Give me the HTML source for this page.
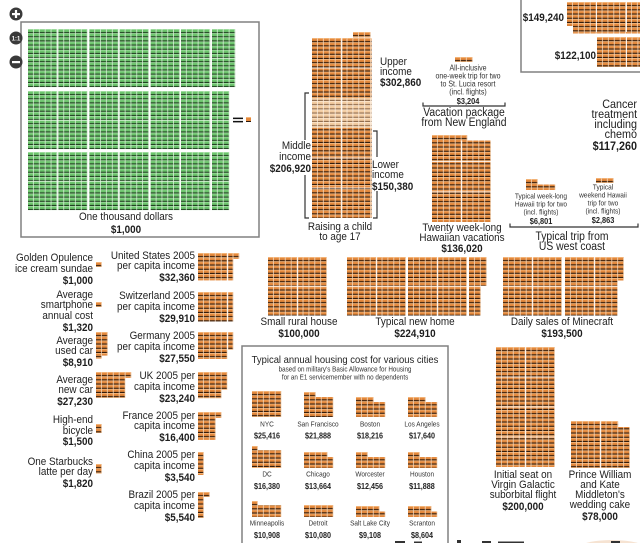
<!DOCTYPE html>
<html><head><meta charset="utf-8">
<style>
html,body{margin:0;padding:0;background:#fff;}
svg{display:block;}
text{font-family:"Liberation Sans",sans-serif;font-size:11px;fill:#1e1e1e;transform-box:fill-box;transform:scaleX(.9);}
.m{text-anchor:middle;transform-origin:50% 50%;}
.e{text-anchor:end;transform-origin:100% 50%;}
.s{text-anchor:start;transform-origin:0% 50%;}
.b{font-weight:bold;}
.n{font-size:7.8px;fill:#333;}
.n2{font-size:7.3px;fill:#333;}
.nb{font-size:8.2px;font-weight:bold;fill:#222;}
.c{font-size:12px;}
.v{font-size:11.5px;}
.tt{font-size:10.5px;}
.sub{font-size:7px;fill:#333;}
.cn{font-size:7.2px;fill:#333;}
.cv{font-size:8px;font-weight:bold;fill:#222;}
</style></head>
<body>
<svg width="640" height="543" viewBox="0 0 640 543" xmlns="http://www.w3.org/2000/svg">
<defs>
<pattern id="o" width="5.9" height="4.2" patternUnits="userSpaceOnUse">
 <rect width="5.9" height="4.2" fill="#f3dcc3"/>
 <rect width="5.1" height="4.2" fill="#e3883c"/>
 <rect width="5.1" height="0.9" fill="#f4b57a"/>
 <rect y="3.1" width="5.1" height="1.1" fill="#2c190c"/>
</pattern>
<pattern id="p" width="5.9" height="4.2" patternUnits="userSpaceOnUse">
 <rect width="5.9" height="4.2" fill="#fbefe2"/>
 <rect width="5.1" height="4.2" fill="#f2cba0"/>
 <rect width="5.1" height="0.9" fill="#fbe3c8"/>
 <rect y="3.1" width="5.1" height="1.1" fill="#8e6a4c"/>
</pattern>
<pattern id="g" width="5.85" height="4.15" patternUnits="userSpaceOnUse">
 <rect width="5.85" height="4.15" fill="#e4f3e4"/>
 <rect width="5.1" height="4.15" fill="#6cc46c"/>
 <rect width="5.1" height="0.8" fill="#a6e0a6"/>
 <rect y="3.1" width="5.1" height="1.05" fill="#1d3a1d"/>
</pattern>
</defs>

<!-- zoom controls -->
<circle cx="16" cy="14" r="6.5" fill="#3a3a3a"/>
<rect x="12" y="13" width="8" height="2.2" fill="#fff"/><rect x="14.9" y="10" width="2.2" height="8" fill="#fff"/>

<!-- green box -->
<rect x="21" y="22" width="238" height="215" fill="#fff" stroke="#808080" stroke-width="1.5"/>
<circle cx="16" cy="38" r="6.5" fill="#3a3a3a"/>
<text x="16" y="40.5" class="m b" style="font-size:6.5px;fill:#fff">1:1</text>
<circle cx="16" cy="62" r="6.5" fill="#3a3a3a"/>
<rect x="12" y="61" width="8" height="2.2" fill="#fff"/>

<!-- green grid: bands -->
<g transform="translate(28,29)"><rect width="29.25" height="58.1" fill="url(#g)"/></g>
<g transform="translate(58.3,29)"><rect width="29.25" height="58.1" fill="url(#g)"/></g>
<g transform="translate(89.3,29)"><rect width="29.25" height="58.1" fill="url(#g)"/></g>
<g transform="translate(119.6,29)"><rect width="29.25" height="58.1" fill="url(#g)"/></g>
<g transform="translate(150.6,29)"><rect width="29.25" height="58.1" fill="url(#g)"/></g>
<g transform="translate(180.9,29)"><rect width="29.25" height="58.1" fill="url(#g)"/></g>
<g transform="translate(211.9,29)"><rect width="23.4" height="58.1" fill="url(#g)"/></g>

<g transform="translate(28,91)"><rect width="29.25" height="58.1" fill="url(#g)"/></g>
<g transform="translate(58.3,91)"><rect width="29.25" height="58.1" fill="url(#g)"/></g>
<g transform="translate(89.3,91)"><rect width="29.25" height="58.1" fill="url(#g)"/></g>
<g transform="translate(119.6,91)"><rect width="29.25" height="58.1" fill="url(#g)"/></g>
<g transform="translate(150.6,91)"><rect width="29.25" height="58.1" fill="url(#g)"/></g>
<g transform="translate(180.9,91)"><rect width="29.25" height="58.1" fill="url(#g)"/></g>
<g transform="translate(211.9,91)"><rect width="17.55" height="58.1" fill="url(#g)"/></g>

<g transform="translate(28,152)"><rect width="29.25" height="58.1" fill="url(#g)"/></g>
<g transform="translate(58.3,152)"><rect width="29.25" height="58.1" fill="url(#g)"/></g>
<g transform="translate(89.3,152)"><rect width="29.25" height="58.1" fill="url(#g)"/></g>
<g transform="translate(119.6,152)"><rect width="29.25" height="58.1" fill="url(#g)"/></g>
<g transform="translate(150.6,152)"><rect width="29.25" height="58.1" fill="url(#g)"/></g>
<g transform="translate(180.9,152)"><rect width="29.25" height="58.1" fill="url(#g)"/></g>
<g transform="translate(211.9,152)"><rect width="17.55" height="58.1" fill="url(#g)"/></g>
<rect x="28" y="57.8" width="207" height="0.7" fill="#fff" opacity=".7"/>
<rect x="28" y="119.8" width="202" height="0.7" fill="#fff" opacity=".7"/>
<rect x="28" y="180.8" width="202" height="0.7" fill="#fff" opacity=".7"/>

<!-- equals -->
<rect x="233" y="117.6" width="10" height="1.5" fill="#111"/>
<rect x="233" y="120.9" width="10" height="1.5" fill="#111"/>
<rect x="246" y="117" width="5" height="5" fill="#e3883c"/>
<rect x="246" y="117" width="5" height="1" fill="#f4b57a"/>
<rect x="246" y="121" width="5" height="1" fill="#2c190c"/>

<text class="m" x="126" y="220">One thousand dollars</text>
<text class="m b" x="126" y="233">$1,000</text>

<!-- Raising a child -->
<g transform="translate(353,32)"><rect width="17.7" height="5.5" fill="url(#o)"/></g>
<g transform="translate(312,38)">
 <rect width="59.5" height="60" fill="url(#o)"/>
 <rect y="60" width="59.5" height="30" fill="url(#p)"/>
 <rect y="90" width="59.5" height="90" fill="url(#o)"/>
</g>
<rect x="341.4" y="38" width="0.9" height="180" fill="#fff"/>
<rect x="312" y="67.6" width="59.5" height="0.8" fill="#fff"/>
<rect x="312" y="157.6" width="59.5" height="0.8" fill="#fff"/>
<rect x="312" y="187.6" width="59.5" height="0.8" fill="#fff"/>
<g stroke="#333" stroke-width="1.2" fill="none">
 <path d="M309,93 H305 V140"/>
 <path d="M305,175 V218 H309"/>
 <path d="M373,131 H377 V157"/>
 <path d="M377,191 V218 H373"/>
</g>
<text class="s" x="380" y="65">Upper</text>
<text class="s" x="380" y="75">income</text>
<text class="s b" x="380" y="86">$302,860</text>
<text class="e" x="311" y="149">Middle</text>
<text class="e" x="311" y="160">income</text>
<text class="e b" x="311" y="172">$206,920</text>
<text class="s" x="372" y="168">Lower</text>
<text class="s" x="372" y="178">income</text>
<text class="s b" x="372" y="190">$150,380</text>
<text class="m" x="340" y="230">Raising a child</text>
<text class="m" x="340" y="240">to age 17</text>

<!-- Vacation package -->
<g transform="translate(455,57)"><rect width="17.7" height="5" fill="url(#o)"/></g>
<text class="m n" x="468" y="70.5">All-inclusive</text>
<text class="m n" x="468" y="78.5">one-week trip for two</text>
<text class="m n" x="468" y="86.5">to St. Lucia resort</text>
<text class="m n" x="468" y="94.5">(incl. flights)</text>
<text class="m nb" x="468" y="103.8">$3,204</text>
<path d="M423,102.5 V106 H505 V102.5" stroke="#333" stroke-width="1.2" fill="none"/>
<text class="m v" x="464" y="116">Vacation package</text>
<text class="m v" x="464" y="126">from New England</text>

<!-- Twenty Hawaiian vacations -->
<g transform="translate(432,135)">
 <rect width="35.4" height="5.5" fill="url(#o)"/>
 <rect y="5.5" width="59" height="81.5" fill="url(#o)"/>
</g>
<rect x="461.3" y="140.5" width="0.9" height="82" fill="#fff"/>
<rect x="432" y="161" width="59" height="0.8" fill="#fff"/>
<rect x="432" y="191.5" width="59" height="0.8" fill="#fff"/>
<text class="m" x="462" y="231">Twenty week-long</text>
<text class="m" x="462" y="241">Hawaiian vacations</text>
<text class="m b" x="462" y="252">$136,020</text>

<!-- Trip from west coast -->
<g transform="translate(526,179)">
 <rect width="11.8" height="5.5" fill="url(#o)"/>
 <rect y="5.5" width="29.5" height="5.5" fill="url(#o)"/>
</g>
<g transform="translate(596,178)"><rect width="17.7" height="5" fill="url(#o)"/></g>
<text class="m n2" x="541" y="198.5">Typical week-long</text>
<text class="m n2" x="541" y="206.5">Hawaii trip for two</text>
<text class="m n2" x="541" y="214.5">(incl. flights)</text>
<text class="m nb" x="541" y="224">$6,801</text>
<text class="m n2" x="603" y="189.5">Typical</text>
<text class="m n2" x="603" y="197.5">weekend Hawaii</text>
<text class="m n2" x="603" y="205.5">trip for two</text>
<text class="m n2" x="603" y="213.5">(incl. flights)</text>
<text class="m nb" x="603" y="223">$2,863</text>
<path d="M510,223.5 V227 H638 V223.5" stroke="#333" stroke-width="1.2" fill="none"/>
<text class="m v" x="572" y="240">Typical trip from</text>
<text class="m v" x="572" y="250">US west coast</text>

<!-- Cancer -->
<text class="e c" x="637" y="108">Cancer</text>
<text class="e c" x="637" y="118">treatment</text>
<text class="e c" x="637" y="128">including</text>
<text class="e c" x="637" y="138">chemo</text>
<text class="e c b" x="637" y="150">$117,260</text>

<!-- top right box -->
<rect x="521" y="-5" width="130" height="77" fill="none" stroke="#808080" stroke-width="1.5"/>
<g transform="translate(567,2)">
 <rect width="73" height="24" fill="url(#o)"/>
 <rect x="6" y="24" width="67" height="7.5" fill="url(#o)"/>
</g>
<rect x="596" y="2" width="0.9" height="30" fill="#fff"/>
<rect x="626" y="2" width="0.9" height="30" fill="#fff"/>
<g transform="translate(597,37)"><rect width="43" height="30" fill="url(#o)"/></g>
<rect x="626" y="37" width="0.9" height="30" fill="#fff"/>
<text class="e b" x="564" y="21">$149,240</text>
<text class="e b" x="596" y="59">$122,100</text>

<!-- left column -->
<g transform="translate(96,262)"><rect width="5.9" height="5" fill="url(#o)"/></g>
<g transform="translate(96,302)"><rect width="5.9" height="5" fill="url(#o)"/></g>
<g transform="translate(96,332)"><rect width="11.8" height="23.6" fill="url(#o)"/><rect y="23.6" width="5.9" height="3" fill="url(#o)"/></g>
<g transform="translate(96,372)"><rect width="35.4" height="5.9" fill="url(#o)"/><rect y="5.9" width="29.5" height="20" fill="url(#o)"/></g>
<g transform="translate(96,424)"><rect width="5.9" height="9" fill="url(#o)"/></g>
<g transform="translate(96,464)"><rect width="5.9" height="9.5" fill="url(#o)"/></g>

<text class="e" x="93" y="261">Golden Opulence</text>
<text class="e" x="93" y="272">ice cream sundae</text>
<text class="e b" x="93" y="284">$1,000</text>
<text class="e" x="93" y="298">Average</text>
<text class="e" x="93" y="308">smartphone</text>
<text class="e" x="93" y="319">annual cost</text>
<text class="e b" x="93" y="331">$1,320</text>
<text class="e" x="93" y="344">Average</text>
<text class="e" x="93" y="354">used car</text>
<text class="e b" x="93" y="366">$8,910</text>
<text class="e" x="93" y="383">Average</text>
<text class="e" x="93" y="393">new car</text>
<text class="e b" x="93" y="405">$27,230</text>
<text class="e" x="93" y="423">High-end</text>
<text class="e" x="93" y="434">bicycle</text>
<text class="e b" x="93" y="445">$1,500</text>
<text class="e" x="93" y="465">One Starbucks</text>
<text class="e" x="93" y="475">latte per day</text>
<text class="e b" x="93" y="487">$1,820</text>

<!-- countries -->
<g transform="translate(198,253)"><rect width="41.3" height="5.9" fill="url(#o)"/><rect y="5.9" width="35.4" height="21.5" fill="url(#o)"/></g>
<g transform="translate(198,292)"><rect width="35.4" height="29.5" fill="url(#o)"/></g>
<g transform="translate(198,332)"><rect width="35.4" height="17.7" fill="url(#o)"/><rect y="17.7" width="29.5" height="9.3" fill="url(#o)"/></g>
<g transform="translate(198,372)"><rect width="29.5" height="17.7" fill="url(#o)"/><rect y="17.7" width="23.6" height="8.5" fill="url(#o)"/></g>
<g transform="translate(198,412)"><rect width="23.6" height="5.9" fill="url(#o)"/><rect y="5.9" width="17.7" height="22" fill="url(#o)"/></g>
<g transform="translate(198,452)"><rect width="5.9" height="23" fill="url(#o)"/></g>
<g transform="translate(198,492)"><rect width="11.8" height="5" fill="url(#o)"/><rect y="5" width="5.9" height="21" fill="url(#o)"/></g>
<rect x="227.3" y="253" width="0.9" height="28" fill="#fff"/>
<rect x="227.3" y="292" width="0.9" height="30" fill="#fff"/>
<rect x="227.3" y="332" width="0.9" height="18" fill="#fff"/>

<text class="e" x="195" y="259">United States 2005</text>
<text class="e" x="195" y="269">per capita income</text>
<text class="e b" x="195" y="281">$32,360</text>
<text class="e" x="195" y="299">Switzerland 2005</text>
<text class="e" x="195" y="310">per capita income</text>
<text class="e b" x="195" y="322">$29,910</text>
<text class="e" x="195" y="339">Germany 2005</text>
<text class="e" x="195" y="350">per capita income</text>
<text class="e b" x="195" y="362">$27,550</text>
<text class="e" x="195" y="379">UK 2005 per</text>
<text class="e" x="195" y="390">capita income</text>
<text class="e b" x="195" y="402">$23,240</text>
<text class="e" x="195" y="419">France 2005 per</text>
<text class="e" x="195" y="429">capita income</text>
<text class="e b" x="195" y="441">$16,400</text>
<text class="e" x="195" y="458">China 2005 per</text>
<text class="e" x="195" y="469">capita income</text>
<text class="e b" x="195" y="481">$3,540</text>
<text class="e" x="195" y="498">Brazil 2005 per</text>
<text class="e" x="195" y="509">capita income</text>
<text class="e b" x="195" y="521">$5,540</text>

<!-- houses row -->
<g transform="translate(268,257)"><rect width="59" height="58.5" fill="url(#o)"/></g>
<g transform="translate(347,257)"><rect width="59" height="58.5" fill="url(#o)"/></g>
<g transform="translate(408,257)"><rect width="59" height="58.5" fill="url(#o)"/></g>
<g transform="translate(469,257)"><rect width="17.7" height="29.5" fill="url(#o)"/><rect y="29.5" width="11.8" height="29" fill="url(#o)"/></g>
<g transform="translate(503,257)"><rect width="59" height="58.5" fill="url(#o)"/></g>
<g transform="translate(565,257)"><rect width="59" height="23.5" fill="url(#o)"/><rect y="23.5" width="52.5" height="35" fill="url(#o)"/></g>
<g fill="#fff">
 <rect x="297.3" y="257" width="0.9" height="58.5"/>
 <rect x="376.3" y="257" width="0.9" height="58.5"/>
 <rect x="437.3" y="257" width="0.9" height="58.5"/>
 <rect x="532.3" y="257" width="0.9" height="58.5"/>
 <rect x="594.3" y="257" width="0.9" height="58.5"/>
 <rect x="268" y="285.8" width="219" height="0.8"/>
 <rect x="503" y="285.8" width="121" height="0.8"/>
</g>
<text class="m" x="299" y="325">Small rural house</text>
<text class="m b" x="299" y="337">$100,000</text>
<text class="m" x="415" y="325">Typical new home</text>
<text class="m b" x="415" y="337">$224,910</text>
<text class="m" x="562" y="325">Daily sales of Minecraft</text>
<text class="m b" x="562" y="337">$193,500</text>

<!-- housing box -->
<rect x="242" y="346" width="206" height="210" fill="none" stroke="#808080" stroke-width="1.5"/>
<text class="m tt" x="345" y="363">Typical annual housing cost for various cities</text>
<text class="m sub" x="345" y="371.5">based on military's Basic Allowance for Housing</text>
<text class="m sub" x="345" y="379.5">for an E1 servicemember with no dependents</text>

<g transform="translate(252,391)"><rect width="29.5" height="26" fill="url(#o)"/></g>
<g transform="translate(304,392)"><rect width="11.8" height="5" fill="url(#o)"/><rect y="5" width="29.5" height="20" fill="url(#o)"/></g>
<g transform="translate(356,397)"><rect width="17.7" height="5" fill="url(#o)"/><rect y="5" width="29.5" height="15" fill="url(#o)"/></g>
<g transform="translate(408,397)"><rect width="17.7" height="5" fill="url(#o)"/><rect y="5" width="29.5" height="15" fill="url(#o)"/></g>

<g transform="translate(252,446)"><rect width="5.9" height="4" fill="url(#o)"/><rect y="4" width="29.5" height="18" fill="url(#o)"/></g>
<g transform="translate(304,452)"><rect width="23.6" height="5" fill="url(#o)"/><rect y="5" width="29.5" height="11" fill="url(#o)"/></g>
<g transform="translate(356,452)"><rect width="11.8" height="5" fill="url(#o)"/><rect y="5" width="29.5" height="11" fill="url(#o)"/></g>
<g transform="translate(408,452)"><rect width="11.8" height="5" fill="url(#o)"/><rect y="5" width="29.5" height="11" fill="url(#o)"/></g>

<g transform="translate(252,501)"><rect width="5.9" height="4" fill="url(#o)"/><rect y="4" width="29.5" height="12" fill="url(#o)"/></g>
<g transform="translate(304,505)"><rect width="29.5" height="12" fill="url(#o)"/></g>
<g transform="translate(356,506)"><rect width="23.6" height="5.5" fill="url(#o)"/><rect y="5.5" width="29.5" height="5.5" fill="url(#o)"/></g>
<g transform="translate(408,506)"><rect width="23.6" height="5.5" fill="url(#o)"/><rect y="5.5" width="29.5" height="5.5" fill="url(#o)"/></g>

<text class="m cn" x="267" y="426.5">NYC</text>
<text class="m cv" x="267" y="438.5">$25,416</text>
<text class="m cn" x="318" y="426.5">San Francisco</text>
<text class="m cv" x="318" y="438.5">$21,888</text>
<text class="m cn" x="370" y="426.5">Boston</text>
<text class="m cv" x="370" y="438.5">$18,216</text>
<text class="m cn" x="422" y="426.5">Los Angeles</text>
<text class="m cv" x="422" y="438.5">$17,640</text>

<text class="m cn" x="267" y="476.5">DC</text>
<text class="m cv" x="267" y="489">$16,380</text>
<text class="m cn" x="318" y="476.5">Chicago</text>
<text class="m cv" x="318" y="489">$13,664</text>
<text class="m cn" x="370" y="476.5">Worcester</text>
<text class="m cv" x="370" y="489">$12,456</text>
<text class="m cn" x="422" y="476.5">Houston</text>
<text class="m cv" x="422" y="489">$11,888</text>

<text class="m cn" x="267" y="525.5">Minneapolis</text>
<text class="m cv" x="267" y="538">$10,908</text>
<text class="m cn" x="318" y="525.5">Detroit</text>
<text class="m cv" x="318" y="538">$10,080</text>
<text class="m cn" x="370" y="525.5">Salt Lake City</text>
<text class="m cv" x="370" y="538">$9,108</text>
<text class="m cn" x="422" y="525.5">Scranton</text>
<text class="m cv" x="422" y="538">$8,604</text>

<!-- Virgin Galactic -->
<g transform="translate(496,347)"><rect width="59" height="120" fill="url(#o)"/></g>
<g fill="#fff">
 <rect x="525.3" y="347" width="0.9" height="120"/>
 <rect x="496" y="376.6" width="59" height="0.8"/>
 <rect x="496" y="406.6" width="59" height="0.8"/>
 <rect x="496" y="436.6" width="59" height="0.8"/>
</g>
<text class="m" x="523" y="478">Initial seat on</text>
<text class="m" x="523" y="488">Virgin Galactic</text>
<text class="m" x="523" y="498">suborbital flight</text>
<text class="m b" x="523" y="510">$200,000</text>

<!-- Wedding cake -->
<g transform="translate(571,421)"><rect width="47.2" height="6" fill="url(#o)"/><rect y="6" width="59" height="41" fill="url(#o)"/></g>
<rect x="600.3" y="421" width="0.9" height="47" fill="#fff"/>
<text class="m" x="600" y="478">Prince William</text>
<text class="m" x="600" y="488">and Kate</text>
<text class="m" x="600" y="498">Middleton's</text>
<text class="m" x="600" y="508">wedding cake</text>
<text class="m b" x="600" y="520">$78,000</text>

<!-- cut-off fragments at bottom -->
<ellipse cx="612" cy="550" rx="36" ry="10" fill="#f6e3d2"/>
<rect x="395" y="541" width="10" height="2" fill="#333"/>
<rect x="414" y="541.5" width="8" height="1.5" fill="#333"/>
<rect x="482" y="541" width="9" height="2" fill="#333"/>
<rect x="498" y="541.5" width="26" height="1.5" fill="#333"/>
<rect x="611" y="541" width="9" height="2" fill="#333"/>
<rect x="457" y="540" width="4" height="3" fill="#333"/>
</svg>
</body></html>
